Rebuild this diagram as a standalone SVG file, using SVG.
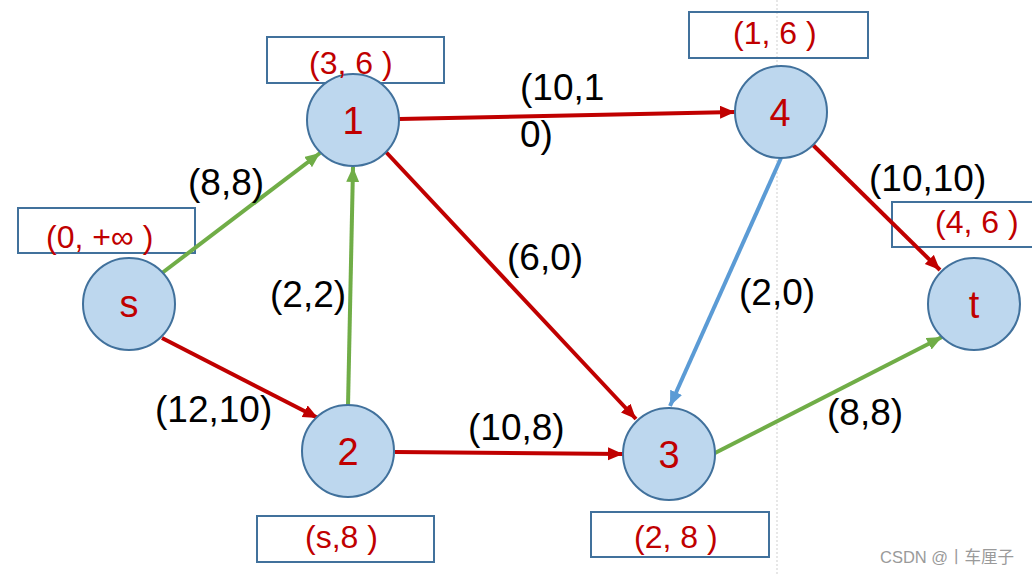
<svg xmlns="http://www.w3.org/2000/svg" width="1032" height="576" viewBox="0 0 1032 576">
<style>
.node circle{fill:#BDD7EE;stroke:#41719C;stroke-width:2}
.node .lbl{font-family:"Liberation Sans",Arial,sans-serif;font-size:38px;fill:#C00000;text-anchor:middle}
.box{fill:none;stroke:#41719C;stroke-width:2}
.bt{font-family:"Liberation Sans",Arial,sans-serif;font-size:32px;fill:#C00000}
.el{font-family:"Liberation Sans",Arial,sans-serif;font-size:37px;fill:#000}
.e{stroke-width:4;fill:none}
.r{stroke:#C00000;marker-end:url(#ar)}
.g{stroke:#70AD47;marker-end:url(#ag)}
.b{stroke:#5B9BD5;marker-end:url(#ab)}
</style>
<defs>
<marker id="ar" markerUnits="userSpaceOnUse" markerWidth="16" markerHeight="14" refX="15" refY="6.5" orient="auto"><path d="M0,0 L15,6.5 L0,13 z" fill="#C00000"/></marker>
<marker id="ag" markerUnits="userSpaceOnUse" markerWidth="16" markerHeight="14" refX="15" refY="6.5" orient="auto"><path d="M0,0 L15,6.5 L0,13 z" fill="#70AD47"/></marker>
<marker id="ab" markerUnits="userSpaceOnUse" markerWidth="16" markerHeight="14" refX="15" refY="6.5" orient="auto"><path d="M0,0 L15,6.5 L0,13 z" fill="#5B9BD5"/></marker>
</defs>
<rect width="1032" height="576" fill="#fff"/>
<line x1="777" y1="0" x2="777" y2="576" stroke="#cfcfcf" stroke-width="1" stroke-dasharray="2,2"/>

<g id="boxes">
<rect class="box" x="18" y="208" width="177" height="45"/>
<rect class="box" x="267" y="37" width="177" height="46"/>
<rect class="box" x="689" y="12" width="179" height="46"/>
<rect class="box" x="892" y="202" width="150" height="45"/>
<rect class="box" x="257" y="516" width="177" height="46"/>
<rect class="box" x="591" y="512" width="178" height="45"/>
</g>

<g id="connectors">
<line class="e g" x1="162" y1="273" x2="320" y2="153"/>
<line class="e r" x1="162" y1="338" x2="318" y2="418"/>
<line class="e g" x1="348" y1="406" x2="353" y2="167"/>
<line class="e r" x1="399" y1="119" x2="735" y2="112"/>
<line class="e r" x1="385" y1="151" x2="636" y2="419"/>
<line class="e b" x1="781" y1="158" x2="670" y2="406"/>
<line class="e r" x1="813" y1="145" x2="940" y2="270"/>
<line class="e r" x1="395" y1="452" x2="623" y2="454"/>
<line class="e g" x1="715" y1="453" x2="942" y2="337"/>
<text class="el" x="188" y="195">(8,8)</text>
<text class="el" x="270" y="307">(2,2)</text>
<text class="el" x="520" y="100">(10,1</text>
<text class="el" x="520" y="147">0)</text>
<text class="el" x="507" y="270">(6,0)</text>
<text class="el" x="155" y="422">(12,10)</text>
<text class="el" x="468" y="440">(10,8)</text>
<text class="el" x="739" y="305">(2,0)</text>
<text class="el" x="827" y="425">(8,8)</text>
<text class="el" x="869" y="191">(10,10)</text>
</g>

<g id="node-s">
<g class="node"><circle cx="129" cy="304" r="46"/><text class="lbl" x="129" y="317">s</text></g>
<text class="bt" x="46" y="248">(0, +∞ )</text>
</g>
<g id="node-1">
<g class="node"><circle cx="353" cy="120" r="46"/><text class="lbl" x="353" y="134">1</text></g>
<text class="bt" x="309" y="74">(3, 6 )</text>
</g>
<g id="node-4">
<g class="node"><circle cx="781" cy="112" r="46"/><text class="lbl" x="780" y="126">4</text></g>
<text class="bt" x="733" y="44">(1, 6 )</text>
</g>
<g id="node-t">
<g class="node"><circle cx="974" cy="304" r="46"/><text class="lbl" x="974" y="318">t</text></g>
<text class="bt" x="935" y="233">(4, 6 )</text>
</g>
<g id="node-2">
<g class="node"><circle cx="348" cy="451" r="46"/><text class="lbl" x="348" y="465">2</text></g>
<text class="bt" x="305" y="548">(s,8 )</text>
</g>
<g id="node-3">
<g class="node"><circle cx="669" cy="454" r="46"/><text class="lbl" x="669" y="468">3</text></g>
<text class="bt" x="634" y="548">(2, 8 )</text>
</g>
<text x="880" y="563" font-family="'Liberation Sans','Noto Sans CJK SC',sans-serif" font-size="16.5" fill="#9a9a9a">CSDN @丨车厘子</text>
</svg>
